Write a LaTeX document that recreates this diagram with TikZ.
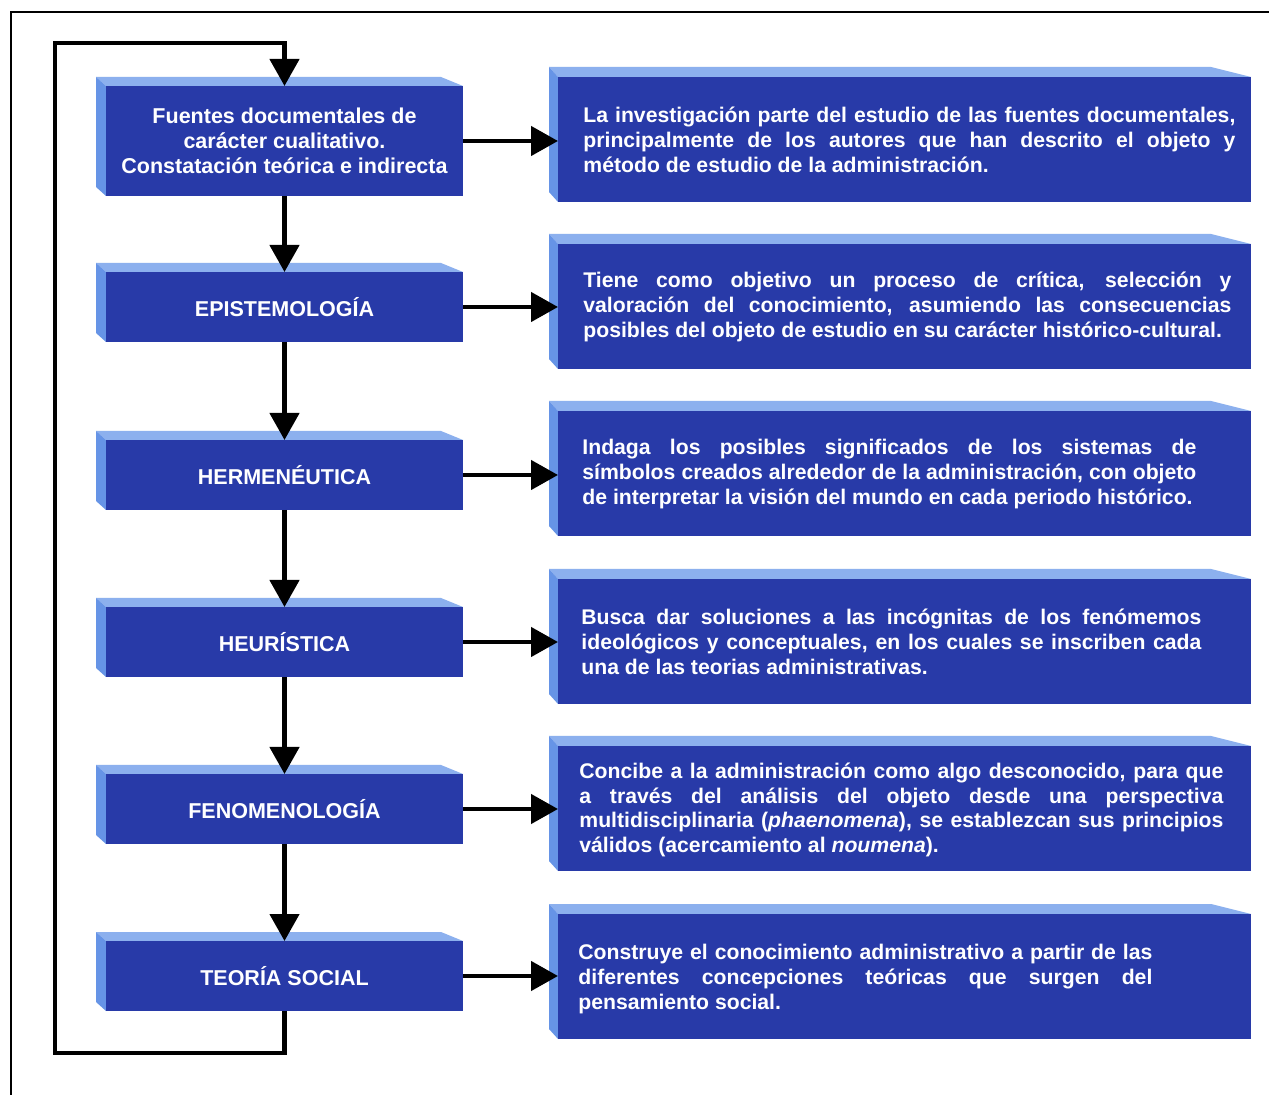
\documentclass[tikz,border=0pt]{standalone}
\usepackage{fontspec}
\setmainfont{Liberation Sans}
\usetikzlibrary{arrows.meta,fit}
\definecolor{frontblue}{RGB}{40,58,168}
\definecolor{topblue}{RGB}{140,176,238}
\definecolor{sideblue}{RGB}{102,148,230}
\newlength{\jw}
\newcommand{\jl}[1]{\makebox[\jw][s]{#1}}
% name, x1, y1, x2, y2, back offset left, back offset right, back offset up
\newcommand{\tdbox}[8]{%
  \fill[topblue] (#2,#3) -- ({#2-#6},{#3-#8}) -- ({#4-#7},{#3-#8}) -- (#4,#3) -- cycle;
  \fill[sideblue] (#2,#3) -- ({#2-#6},{#3-#8}) -- ({#2-#6},{#5-#8}) -- (#2,#5) -- cycle;
  \node[frontbox, fit={(#2,#3) (#4,#5)}] (#1) {};
}
\tikzset{
  frontbox/.style={fill=frontblue, inner sep=0pt, outer sep=0pt, draw=none},
  ltext/.style={text=white, font=\fontsize{10.75pt}{12.5pt}\selectfont\bfseries, inner sep=0pt, align=center},
  rtext/.style={text=white, font=\fontsize{10.6pt}{12.4pt}\selectfont\bfseries, inner sep=0pt, align=left, anchor=west},
  conn/.style={line width=2.3pt, -{Triangle[length=13.5pt,width=14.5pt]}},
  frameline/.style={line width=1.2pt}
}
\begin{document}
\begin{tikzpicture}[x=0.5pt,y=-0.5pt]
\useasboundingbox (0,0) rectangle (1269,1095);
\fill[white] (0,0) rectangle (1269,1095);
% outer frame (cut by the page edges)
\draw[frameline] (11,1095) -- (11,12) -- (1269,12);

% left boxes
\tdbox{L1}{106}{86}{463}{196}{10}{22}{9}
\tdbox{L2}{106}{272}{463}{342}{10}{22}{9}
\tdbox{L3}{106}{440}{463}{510}{10}{22}{9}
\tdbox{L4}{106}{607}{463}{677}{10}{22}{9}
\tdbox{L5}{106}{774}{463}{844}{10}{22}{9}
\tdbox{L6}{106}{941}{463}{1011}{10}{22}{9}

% right boxes
\tdbox{R1}{558}{77}{1251}{202}{9}{40}{10}
\tdbox{R2}{558}{244}{1251}{369}{9}{40}{10}
\tdbox{R3}{558}{411}{1251}{536}{9}{40}{10}
\tdbox{R4}{558}{579}{1251}{704}{9}{40}{10}
\tdbox{R5}{558}{746}{1251}{871}{9}{40}{10}
\tdbox{R6}{558}{914}{1251}{1039}{9}{40}{10}

% left texts
\node[ltext] (L1t) at (L1.center) {Fuentes documentales de\\carácter cualitativo.\\Constatación teórica e indirecta};
\node[ltext] (L2t) at (L2.center) {EPISTEMOLOGÍA};
\node[ltext] (L3t) at (L3.center) {HERMENÉUTICA};
\node[ltext] (L4t) at (L4.center) {HEURÍSTICA};
\node[ltext] (L5t) at (L5.center) {FENOMENOLOGÍA};
\node[ltext] (L6t) at (L6.center) {TEORÍA SOCIAL};

% right texts
\setlength{\jw}{326pt}
\node[rtext] (R1t) at (583,140) {\jl{La investigación parte del estudio de las fuentes documentales,}\\\jl{principalmente de los autores que han descrito el objeto y}\\método de estudio de la administración.};
\setlength{\jw}{324pt}
\node[rtext] (R2t) at (583,307) {\jl{Tiene como objetivo un proceso de crítica, selección y}\\\jl{valoración del conocimiento, asumiendo las consecuencias}\\posibles del objeto de estudio en su carácter histórico-cultural.};
\setlength{\jw}{307pt}
\node[rtext] (R3t) at (582,474) {\jl{Indaga los posibles significados de los sistemas de}\\\jl{símbolos creados alrededor de la administración, con objeto}\\de interpretar la visión del mundo en cada periodo histórico.};
\setlength{\jw}{310pt}
\node[rtext] (R4t) at (581,642) {\jl{Busca dar soluciones a las incógnitas de los fenómemos}\\\jl{ideológicos y conceptuales, en los cuales se inscriben cada}\\una de las teorias administrativas.};
\setlength{\jw}{322pt}
\node[rtext] (R5t) at (579,810) {\jl{Concibe a la administración como algo desconocido, para que}\\\jl{a través del análisis del objeto desde una perspectiva}\\\jl{multidisciplinaria (\textit{phaenomena}), se establezcan sus principios}\\válidos (acercamiento al \textit{noumena}).};
\setlength{\jw}{287pt}
\node[rtext] (R6t) at (578,979) {\jl{Construye el conocimiento administrativo a partir de las}\\\jl{diferentes concepciones teóricas que surgen del}\\pensamiento social.};

% horizontal connectors
\foreach \i in {1,...,6} {\draw[conn] (L\i.east) -- (L\i.east -| R\i.west);}
% vertical connectors
\draw[conn] (L1.south) -- (L2.north);
\draw[conn] (L2.south) -- (L3.north);
\draw[conn] (L3.south) -- (L4.north);
\draw[conn] (L4.south) -- (L5.north);
\draw[conn] (L5.south) -- (L6.north);
% feedback loop
\coordinate (fbA) at (55,1053);
\coordinate (fbB) at (55,43);
\draw[conn] (L6.south) |- (fbA) -- (fbB) -| (L1.north);
\end{tikzpicture}
\end{document}
